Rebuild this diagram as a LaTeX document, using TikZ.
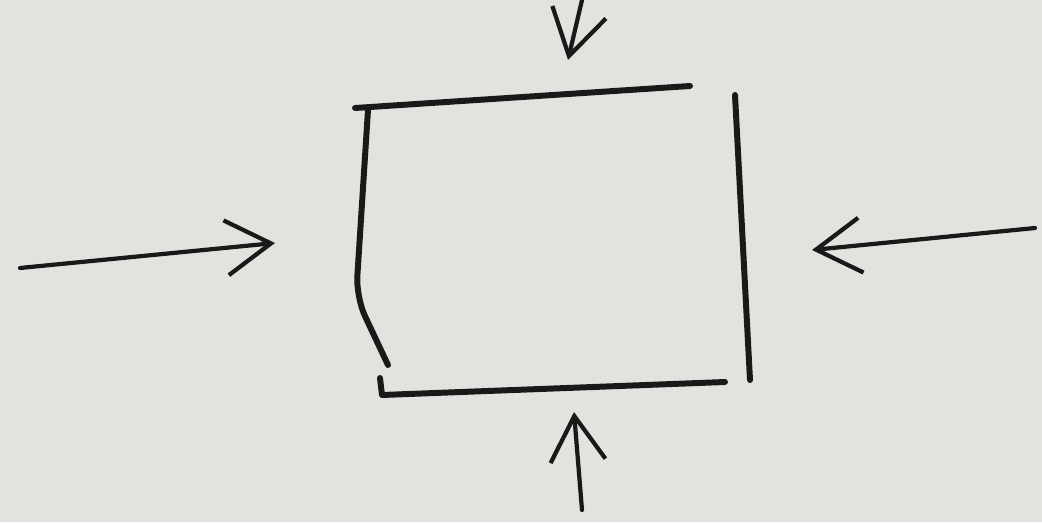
\documentclass[tikz,border=0pt]{standalone}
\usetikzlibrary{arrows.meta}
\definecolor{paper}{RGB}{226,226,223}
\definecolor{ink}{RGB}{25,25,25}

\begin{document}
\begin{tikzpicture}[>={Straight Barb[length=4.5mm, width=5.5mm]},
    side/.style={ink, line width=1.7pt, line cap=round, line join=round},
    push/.style={->, ink, line width=1.2pt, line cap=round}]

    % 1. Nền giấy
    \fill[paper] (0, 0) rectangle (10.42, 5.22);
    \useasboundingbox (0, 0) rectangle (10.42, 5.22);

    % 2. Bốn cạnh rời của hình vuông
    \draw[side] (3.55, 4.14) -- (6.90, 4.36);
    \draw[side, rounded corners=6pt] (3.68, 4.12) -- (3.56, 2.25) -- (3.88, 1.57);
    \draw[side] (3.80, 1.44) -- (3.82, 1.27) -- (7.25, 1.40);
    \draw[side] (7.35, 4.27) -- (7.50, 1.42);

    % 3. Các điểm đầu và cuối của mũi tên
    \coordinate (leftTail) at (0.20, 2.54);
    \coordinate (leftHead) at (2.75, 2.79);
    \coordinate (rightTail) at (10.35, 2.94);
    \coordinate (rightHead) at (8.12, 2.72);
    \coordinate (topTail) at (5.82, 5.22);
    \coordinate (topHead) at (5.68, 4.62);
    \coordinate (bottomTail) at (5.82, 0.12);
    \coordinate (bottomHead) at (5.74, 1.10);

    % 4. Bốn mũi tên ép vào hình vuông
    \draw[push] (leftTail) -- (leftHead);
    \draw[push] (rightTail) -- (rightHead);
    \draw[push] (topTail) -- (topHead);
    \draw[push] (bottomTail) -- (bottomHead);
\end{tikzpicture}
\end{document}
